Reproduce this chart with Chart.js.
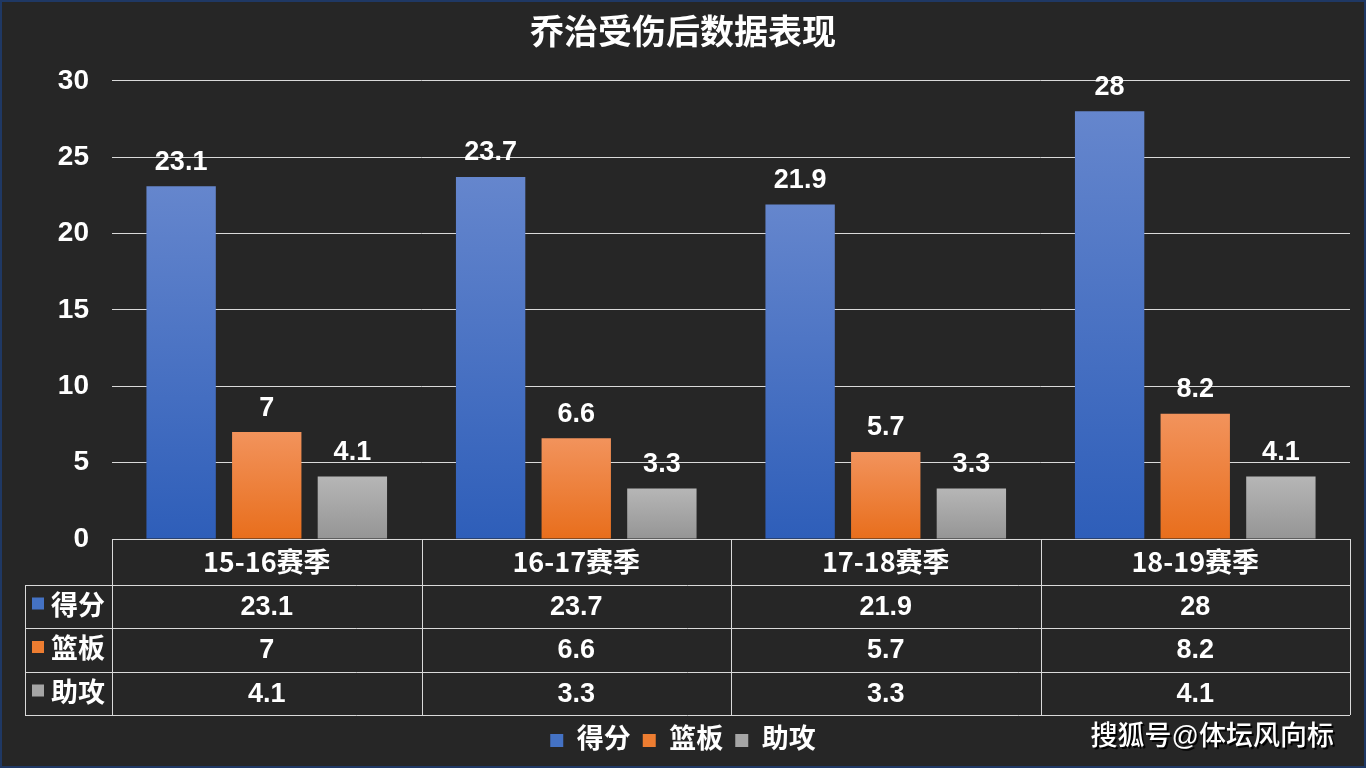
<!DOCTYPE html>
<html lang="zh">
<head>
    <meta charset="UTF-8">
    <title>乔治受伤后数据表现</title>
    <script src="https://cdn.jsdelivr.net/npm/chart.js"></script>
    <style>
        html, body { margin: 0; padding: 0; background: #262626; }
        canvas { display: block; }
    </style>
</head>
<body>
    <canvas id="chart" width="1366" height="768"></canvas>

    <script>
        // chart data
        const seasons = ['15-16赛季', '16-17赛季', '17-18赛季', '18-19赛季'];
        const points = [23.1, 23.7, 21.9, 28];
        const rebounds = [7, 6.6, 5.7, 8.2];
        const assists = [4.1, 3.3, 3.3, 4.1];
        const seriesNames = ['得分', '篮板', '助攻'];
        const yTicks = [0, 5, 10, 15, 20, 25, 30];

        const FONT = '"Liberation Sans", "Noto Sans CJK SC", sans-serif';
        const CJK = '"Noto Sans CJK SC", sans-serif';
        const solid = ['#4472c4', '#ed7d31', '#a5a5a5'];
        const grads = [
            ['#6586cd', '#2e5eb9'],
            ['#f2935c', '#e86e1c'],
            ['#b6b6b6', '#959595']
        ];

        function barGradient(i) {
            return function (ctx) {
                const chart = ctx.chart;
                const y = chart.scales.y;
                if (!y || ctx.type !== 'data') return solid[i];
                const top = y.getPixelForValue(ctx.raw);
                const bottom = y.getPixelForValue(0);
                if (!isFinite(top) || !isFinite(bottom) || top === bottom) return solid[i];
                const g = chart.ctx.createLinearGradient(0, top, 0, bottom);
                g.addColorStop(0, grads[i][0]);
                g.addColorStop(1, grads[i][1]);
                return g;
            };
        }

        // background + thin frame
        const backdrop = {
            id: 'backdrop',
            beforeDraw(chart) {
                const c = chart.ctx;
                c.save();
                c.fillStyle = '#262626';
                c.fillRect(0, 0, chart.width, chart.height);
                c.strokeStyle = '#1f3864';
                c.lineWidth = 2;
                c.strokeRect(1, 1, chart.width - 2, chart.height - 2);
                c.restore();
            }
        };

        // value labels above the bars
        const barLabels = {
            id: 'barLabels',
            afterDatasetsDraw(chart) {
                const c = chart.ctx;
                c.save();
                c.font = 'bold 27px ' + FONT;
                c.fillStyle = '#ffffff';
                c.textAlign = 'center';
                c.textBaseline = 'middle';
                chart.data.datasets.forEach((ds, di) => {
                    chart.getDatasetMeta(di).data.forEach((bar, i) => {
                        c.fillText(String(ds.data[i]), bar.x, bar.y - 24);
                    });
                });
                c.restore();
            }
        };

        // data table under the plot
        const dataTable = {
            id: 'dataTable',
            afterDraw(chart) {
                const c = chart.ctx;
                const area = chart.chartArea;
                const xs = chart.scales.x;
                const left = area.left, right = area.right;
                const labelLeft = 25;
                const rows = [area.bottom, area.bottom + 46, area.bottom + 89, area.bottom + 133, area.bottom + 176];
                const colW = (right - left) / seasons.length;
                const cols = seasons.map((s, i) => left + i * colW).concat([right]);

                c.save();
                c.strokeStyle = '#d9d9d9';
                c.lineWidth = 1;
                c.beginPath();
                c.moveTo(left, rows[0] + 0.5); c.lineTo(right, rows[0] + 0.5);
                for (let r = 1; r < rows.length; r++) {
                    c.moveTo(labelLeft, Math.round(rows[r]) + 0.5);
                    c.lineTo(right, Math.round(rows[r]) + 0.5);
                }
                cols.forEach(x => {
                    c.moveTo(Math.round(x) + 0.5, rows[0]);
                    c.lineTo(Math.round(x) + 0.5, rows[4]);
                });
                c.moveTo(labelLeft + 0.5, rows[1]); c.lineTo(labelLeft + 0.5, rows[4]);
                c.stroke();

                c.fillStyle = '#ffffff';
                c.textAlign = 'center';
                c.textBaseline = 'middle';
                c.font = 'bold 27px ' + CJK;
                seasons.forEach((s, i) => {
                    c.fillText(s, xs.getPixelForValue(i), (rows[0] + rows[1]) / 2);
                });

                const values = [points, rebounds, assists];
                values.forEach((arr, r) => {
                    const cy = (rows[r + 1] + rows[r + 2]) / 2 + 1;
                    c.font = 'bold 27px ' + FONT;
                    c.textAlign = 'center';
                    arr.forEach((v, i) => c.fillText(String(v), xs.getPixelForValue(i), cy));
                    c.fillStyle = solid[r];
                    c.fillRect(32, cy - 10, 12, 12);
                    c.fillStyle = '#ffffff';
                    c.textAlign = 'left';
                    c.font = 'bold 27px ' + FONT;
                    c.fillText(seriesNames[r], 51, cy);
                });

                // watermark
                c.font = '500 27px ' + FONT;
                c.textAlign = 'right';
                c.shadowColor = 'rgba(0,0,0,0.9)';
                c.shadowOffsetX = 2;
                c.shadowOffsetY = 2;
                c.fillText('搜狐号@体坛风向标', 1334, 738);
                c.restore();
            }
        };

        new Chart(document.getElementById('chart'), {
            type: 'bar',
            data: {
                labels: seasons,
                datasets: [
                    { label: seriesNames[0], data: points, backgroundColor: barGradient(0) },
                    { label: seriesNames[1], data: rebounds, backgroundColor: barGradient(1) },
                    { label: seriesNames[2], data: assists, backgroundColor: barGradient(2) }
                ]
            },
            options: {
                responsive: false,
                animation: false,
                devicePixelRatio: 1,
                layout: { padding: { left: 16, right: 16, top: 0, bottom: 4 } },
                datasets: { bar: { categoryPercentage: 0.83, barPercentage: 0.81 } },
                scales: {
                    x: {
                        grid: { display: false },
                        border: { display: false },
                        ticks: { display: false },
                        afterFit(scale) { scale.height = 176; }
                    },
                    y: {
                        min: 0,
                        max: 30,
                        afterBuildTicks(scale) { scale.ticks = yTicks.map(v => ({ value: v })); },
                        grid: { color: '#d9d9d9', lineWidth: 1, drawTicks: false },
                        border: { display: false },
                        ticks: { color: '#ffffff', padding: 23, font: { family: FONT, size: 28, weight: 'bold' } },
                        afterFit(scale) { scale.width = 96; }
                    }
                },
                plugins: {
                    title: {
                        display: true,
                        text: '乔治受伤后数据表现',
                        color: '#ffffff',
                        font: { family: FONT, size: 34, weight: 'bold', lineHeight: 1.2 },
                        padding: { top: 14, bottom: 26 }
                    },
                    legend: {
                        position: 'bottom',
                        labels: {
                            color: '#ffffff',
                            boxWidth: 13,
                            boxHeight: 13,
                            padding: 12,
                            font: { family: FONT, size: 27, weight: 'bold' },
                            generateLabels(chart) {
                                return seriesNames.map((n, i) => ({
                                    text: n,
                                    fillStyle: solid[i],
                                    strokeStyle: solid[i],
                                    lineWidth: 0,
                                    fontColor: '#ffffff',
                                    datasetIndex: i
                                }));
                            }
                        }
                    },
                    tooltip: { enabled: false }
                }
            },
            plugins: [backdrop, barLabels, dataTable]
        });
    </script>
</body>
</html>
